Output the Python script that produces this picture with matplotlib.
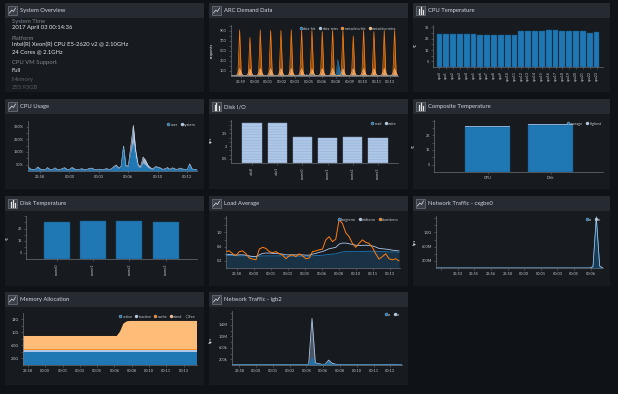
import numpy as np
import matplotlib.pyplot as plt
from matplotlib.patches import Rectangle
from matplotlib.lines import Line2D

# colours of the dashboard
BG = '#0f1216'
PANEL = '#171b20'
HEADER = '#262b32'
AXC = '#6b7179'
TXT = '#c3c7cc'
BLUE, LBLUE, ORANGE, LORANGE = '#1f77b4', '#aec7e8', '#ff7f0e', '#ffbb78'

# ---------------- data ----------------
sys_labels = ["System Time", "Platform", "CPU VM Support", "Memory"]
sys_values = ["2017 April 03 00:14:36",
              "Intel(R) Xeon(R) CPU E5-2620 v2 @ 2.10GHz\n24 Cores @ 2.1GHz",
              "Full", "255.93GB"]

# ARC demand data (requests), one spike per cycle
arc_n = 98
arc_labels = ["23:59", "00:00", "00:01", "00:02", "00:03", "00:05",
              "00:06", "00:08", "00:09", "00:10", "00:11", "00:13"]
arc_spike_idx = [5, 11, 17, 23, 29, 35, 41, 47, 53, 59, 65, 71, 77, 83, 89, 95]
arc_meta_hit_peaks = [913, 760, 913, 900, 900, 913, 900, 900, 880, 900, 900, 793, 900, 880, 900, 900]
arc_meta_miss_peaks = [145, 140, 148, 145, 145, 150, 145, 140, 145, 150, 140, 145, 148, 145, 150, 145]
arc_data_hit_idx = [40, 44, 47, 62, 63, 64]
arc_data_hit_val = [20, 35, 30, 327, 140, 30]

# CPU temperature per core
cpu_names = ["cpu%d" % i for i in range(24)]
cpu_temps = [29.5, 29.6, 29.6, 29.6, 29.6, 29.6, 28.6, 28.6, 28.6, 28.6, 28.6, 28.6,
             32.3, 32.3, 32.3, 32.3, 33.0, 33.0, 32.3, 32.3, 32.3, 32.3, 30.4, 31.4]

# CPU usage (%)
cpu_time_labels = ["23:58", "00:00", "00:03", "00:06", "00:10", "00:13"]
cpu_user = [28, 12, 8, 10, 26, 12, 7, 8, 22, 8, 7, 20, 8, 7, 16, 20, 9, 10, 22, 12,
            8, 10, 14, 8, 9, 16, 18, 10, 8, 12, 8, 9, 15, 10, 12, 28, 40, 18, 30, 185,
            30, 35, 140, 220, 100, 30, 25, 60, 45, 25, 15, 12, 28, 25, 20, 10, 14, 22, 10, 20,
            12, 9, 18, 12, 10, 9, 48, 12, 9, 10]
cpu_system = [6, 4, 3, 3, 6, 4, 3, 3, 5, 3, 3, 5, 3, 3, 4, 6, 3, 3, 6, 4,
              3, 3, 4, 3, 3, 4, 5, 3, 3, 3, 3, 3, 4, 3, 4, 6, 8, 5, 6, 12,
              8, 10, 60, 140, 60, 15, 12, 50, 40, 20, 10, 6, 6, 6, 5, 3, 4, 5, 3, 5,
              4, 3, 5, 4, 3, 3, 8, 4, 3, 3]

# Disk I/O
disk_io_names = ["ada0", "ada1", "nvme0", "nvme1", "nvme2", "nvme3"]
disk_read = [0, 0, 0, 0, 0, 0]
disk_write = [4.75, 4.75, 3.1, 2.95, 3.1, 2.95]

# Composite temperature
comp_names = ["CPU", "Disk"]
comp_avg = [30.6, 31.9]
comp_high = [31.2, 32.4]

# Disk temperature
disk_names = ["nvme0", "nvme1", "nvme2", "nvme3"]
disk_temps = [30.4, 31.5, 31.5, 30.4]

# Load average
time_labels = ["23:58", "00:00", "00:01", "00:03", "00:05", "00:06",
               "00:08", "00:10", "00:11", "00:13"]
load_short = [0.46, 0.48, 0.40, 0.35, 0.46, 0.48, 0.40, 0.28, 0.25, 0.23,
              0.53, 0.58, 0.55, 0.46, 0.43, 0.46, 0.40, 0.36, 0.26, 0.34,
              0.37, 0.32, 0.40, 0.34, 0.26, 0.28, 0.46, 0.48, 0.51, 0.53,
              0.79, 0.88, 0.74, 0.81, 1.36, 1.25, 0.99, 0.88, 0.69, 0.58,
              0.69, 0.79, 0.72, 0.69, 0.58, 0.40, 0.25, 0.32, 0.40, 0.26,
              0.23, 0.26, 0.20]
load_mid = [0.37, 0.38, 0.37, 0.36, 0.37, 0.37, 0.36, 0.34, 0.32, 0.32,
            0.37, 0.41, 0.42, 0.42, 0.41, 0.41, 0.40, 0.39, 0.37, 0.37,
            0.37, 0.37, 0.37, 0.37, 0.36, 0.36, 0.39, 0.41, 0.44, 0.46,
            0.50, 0.54, 0.56, 0.58, 0.67, 0.70, 0.70, 0.68, 0.66, 0.64,
            0.63, 0.63, 0.64, 0.63, 0.62, 0.59, 0.55, 0.54, 0.53, 0.52,
            0.50, 0.49, 0.48]
load_long = [0.35, 0.35, 0.35, 0.34, 0.34, 0.34, 0.34, 0.33, 0.32, 0.32,
             0.33, 0.34, 0.34, 0.34, 0.34, 0.34, 0.34, 0.34, 0.33, 0.33,
             0.33, 0.33, 0.33, 0.33, 0.33, 0.33, 0.34, 0.35, 0.35, 0.36,
             0.37, 0.38, 0.39, 0.40, 0.43, 0.45, 0.46, 0.46, 0.46, 0.46,
             0.46, 0.46, 0.47, 0.47, 0.47, 0.47, 0.46, 0.46, 0.46, 0.45,
             0.45, 0.45, 0.44]

# Network traffic cxgbe0 (Gbit/s)
cx_labels = ["", "23:53", "23:55", "23:56", "23:58", "00:00", "00:01", "00:03", "00:05", "00:06"]
cx_rx = [0.0] * 47 + [0.02, 1.40, 0.02, 0.0]
cx_tx = [0.0] * 47 + [0.04, 1.44, 0.06, 0.0]

# Network traffic igb2 (kbit/s)
igb_rx = [8, 8, 8, 8, 8, 8, 8, 8, 8, 8, 8, 8, 8, 8, 8, 8, 8, 8, 8, 8,
          8, 8, 8, 10, 250, 40, 30, 15, 20, 120, 30, 15, 10, 8, 8, 8, 8, 8, 8, 8,
          8, 8, 8, 8, 8, 8, 8, 10, 15, 8, 8, 8]
igb_tx = [10, 10, 10, 10, 10, 10, 10, 10, 10, 10, 10, 10, 10, 10, 10, 10, 10, 10, 10, 10,
          10, 10, 10, 15, 1620, 70, 50, 20, 30, 170, 60, 30, 15, 10, 10, 10, 10, 10, 10, 10,
          10, 10, 10, 10, 10, 10, 10, 15, 25, 10, 10, 10]

# Memory allocation (GB)
mem_active = [4.1] * 53
mem_inactive = [0.5] * 53
mem_cache = [0.2] * 53
mem_wired = [4.1] * 29 + [5.5, 7.9, 8.6] + [8.7] * 21
mem_free = [0.15] * 53

# ---------------- drawing helpers ----------------
plt.rcParams['font.family'] = ['Lato', 'DejaVu Sans']
plt.rcParams['hatch.linewidth'] = 0.35
W, H = 618, 394
fig = plt.figure(figsize=(W / 100, H / 100), dpi=100)
fig.patch.set_facecolor(BG)


def box(x0, y0, x1, y1, color, z=-2, **kw):
    fig.add_artist(Rectangle((x0 / W, 1 - y1 / H), (x1 - x0) / W, (y1 - y0) / H,
                             transform=fig.transFigure, facecolor=color, zorder=z, **kw))


def fline(xs, ys, color, lw=0.5):
    fig.add_artist(Line2D([x / W for x in xs], [1 - y / H for y in ys],
                          transform=fig.transFigure, color=color, lw=lw, zorder=-1))


def ftext(x, y, s, **kw):
    fig.text(x / W, 1 - y / H, s, **kw)


def panel(x0, y0, x1, y1, title, icon='line'):
    box(x0, y0, x1, y1, PANEL, edgecolor='none')
    box(x0, y0, x1, y0 + 15, HEADER, edgecolor='none')
    box(x0 + 3, y0 + 3, x0 + 12, y0 + 12, '#3a4048', z=-1.5, edgecolor='#858b93', lw=0.4)
    if icon == 'line':
        fline([x0 + 4.5, x0 + 6.8, x0 + 8.5, x0 + 10.5],
              [y0 + 10, y0 + 7, y0 + 8.5, y0 + 5], '#e4e4e4', 0.5)
    else:
        for bx, bh in ((x0 + 5.5, 4.5), (x0 + 7.5, 6.5), (x0 + 9.5, 3.5)):
            fline([bx, bx], [y0 + 10.5, y0 + 10.5 - bh], '#e4e4e4', 0.9)
    ftext(x0 + 15, y0 + 7.8, title, fontsize=4.2, color='#d4d7db', va='center', ha='left')


def mkax(l, t, r, b):
    ax = fig.add_axes([l / W, 1 - b / H, (r - l) / W, (b - t) / H])
    ax.set_facecolor('none')
    for s in ('top', 'right'):
        ax.spines[s].set_visible(False)
    for s in ('left', 'bottom'):
        ax.spines[s].set_color(AXC)
        ax.spines[s].set_linewidth(0.5)
    ax.tick_params(colors=AXC, labelcolor=TXT, labelsize=2.8, length=1.5, width=0.4, pad=1.5)
    return ax


def yticks(ax, ticks, labels):
    ax.set_yticks(ticks)
    ax.set_yticklabels(labels)


def legend(ax, names, colors):
    hs = [Line2D([], [], ls='none', marker='o', ms=2.2, mfc=c, mec='#dddddd', mew=0.2) for c in colors]
    ax.legend(hs, names, loc='upper right', bbox_to_anchor=(1.0, 1.0), ncol=len(names),
              frameon=False, fontsize=2.8, labelcolor=TXT, handlelength=0.6,
              handletextpad=0.25, columnspacing=0.7, borderaxespad=0.4, borderpad=0)


def ylab(x, y, s):
    ftext(x, y, s, fontsize=2.8, color=TXT, rotation=90, ha='center', va='center', fontweight='bold')


cols = [(5, 204), (209, 408), (413, 610)]
rows = [(3, 92), (99, 189), (196, 286), (292, 385)]

# ---------------- System Overview ----------------
panel(cols[0][0], rows[0][0], cols[0][1], rows[0][1], "System Overview")
lab_y = [21, 38.7, 62.7, 80]
val_y = [28, 44.7, 70, 87.3]
for i, (lab, val) in enumerate(zip(sys_labels, sys_values)):
    dim = i == 3
    ftext(12, lab_y[i], lab, fontsize=4.2, color='#5a6067' if dim else '#80868d', va='center')
    for j, line in enumerate(val.split('\n')):
        ftext(12, val_y[i] + j * 7.6, line, fontsize=4.2,
              color='#555b62' if dim else '#e4e6e8', va='center')

# ---------------- ARC Demand Data ----------------
panel(cols[1][0], rows[0][0], cols[1][1], rows[0][1], "ARC Demand Data")
ax = mkax(231, 25, 398, 76)
x = np.arange(arc_n)
meta_hit = np.full(arc_n, 8.0)
meta_miss = np.full(arc_n, 4.0)
data_hit = np.full(arc_n, 3.0)
data_miss = np.full(arc_n, 2.0)
for k, i in enumerate(arc_spike_idx):
    meta_hit[i] = arc_meta_hit_peaks[k]
    meta_miss[i] = arc_meta_miss_peaks[k]
    meta_miss[i - 1] = arc_meta_miss_peaks[k] * 0.4
    if i + 1 < arc_n:
        meta_miss[i + 1] = arc_meta_miss_peaks[k] * 0.4
for i, v in zip(arc_data_hit_idx, arc_data_hit_val):
    data_hit[i] = v
ax.fill_between(x, meta_hit, color=ORANGE, alpha=0.55, lw=0)
ax.plot(x, meta_hit, color=ORANGE, lw=0.5)
ax.fill_between(x, meta_miss, color=LORANGE, alpha=0.8, lw=0)
ax.plot(x, meta_miss, color=LORANGE, lw=0.4)
ax.fill_between(x, data_hit, color=BLUE, alpha=0.8, lw=0)
ax.plot(x, data_hit, color=BLUE, lw=0.4)
ax.plot(x, data_miss, color=LBLUE, lw=0.3)
ax.set_xlim(0, arc_n - 1)
ax.set_ylim(0, 1010)
yv = np.arange(100, 1001, 100)
yticks(ax, yv, [str(v) if v % 200 == 100 else '' for v in yv])
ax.set_xticks(np.linspace(5.8, 92.4, len(arc_labels)))
ax.set_xticklabels(arc_labels)
legend(ax, ["data-hit", "data-miss", "metadata-hit", "metadata-miss"], [BLUE, LBLUE, ORANGE, LORANGE])
ylab(212, 50, "requests")

# ---------------- CPU Temperature ----------------
panel(cols[2][0], rows[0][0], cols[2][1], rows[0][1], "CPU Temperature", 'bar')
ax = mkax(433, 25, 603, 67)
ax.bar(range(len(cpu_temps)), cpu_temps, width=0.85, color=BLUE, edgecolor='#15527f', lw=0.3)
ax.set_xlim(-0.94, 23.95)
ax.set_ylim(0, 37.2)
yv = np.arange(5, 36, 5)
yticks(ax, yv, [str(v) if v % 10 == 5 else '' for v in yv])
ax.set_xticks(range(len(cpu_names)))
ax.set_xticklabels(cpu_names, rotation=90, fontsize=2.6)
ylab(416, 45, "°C")

# ---------------- CPU Usage ----------------
panel(cols[0][0], rows[1][0], cols[0][1], rows[1][1], "CPU Usage")
ax = mkax(28, 121, 197, 171)
x = np.arange(len(cpu_user))
top = np.array(cpu_user) + np.array(cpu_system)
ax.fill_between(x, top, cpu_user, color=LBLUE, alpha=0.9, lw=0)
ax.plot(x, top, color='#dbe7f5', lw=0.4)
ax.fill_between(x, cpu_user, color=BLUE, lw=0)
ax.plot(x, cpu_user, color='#3a93d6', lw=0.4)
ax.set_xlim(0, len(x) - 1)
ax.set_ylim(0, 394)
yv = np.arange(50, 351, 50)
yticks(ax, yv, ['%d%%' % v if v % 100 == 50 else '' for v in yv])
ax.set_xticks(np.linspace(4.9, 64.9, len(cpu_time_labels)))
ax.set_xticklabels(cpu_time_labels)
legend(ax, ["user", "system"], [BLUE, LBLUE])

# ---------------- Disk I/O ----------------
panel(cols[1][0], rows[1][0], cols[1][1], rows[1][1], "Disk I/O", 'bar')
ax = mkax(231, 120, 398, 163)
ax.bar(range(6), disk_read, width=0.76, color=BLUE, lw=0)
ax.bar(range(6), disk_write, bottom=disk_read, width=0.76, color=LBLUE,
       edgecolor='#93aed0', lw=0.3, hatch='------')
ax.set_xlim(-0.83, 5.79)
ax.set_ylim(0, 5.1)
yv = np.arange(0.5, 5.01, 0.5)
yticks(ax, yv, ['0.5' if abs(v - 0.5) < 1e-6 else '2' if abs(v - 2) < 1e-6 else
                '3.5' if abs(v - 3.5) < 1e-6 else '' for v in yv])
ax.set_xticks(range(6))
ax.set_xticklabels(disk_io_names, rotation=90)
legend(ax, ["read", "write"], [BLUE, LBLUE])
ylab(211, 140, "ops")

# ---------------- Composite Temperature ----------------
panel(cols[2][0], rows[1][0], cols[2][1], rows[1][1], "Composite Temperature", 'bar')
ax = mkax(434, 120, 603, 172)
ax.bar(range(2), comp_high, width=0.71, color=LBLUE, lw=0)
ax.bar(range(2), comp_avg, width=0.71, color=BLUE, edgecolor='#15527f', lw=0.3)
ax.set_xlim(-0.85, 1.83)
ax.set_ylim(0, 35.4)
yv = np.arange(5, 36, 5)
yticks(ax, yv, [str(v) if v % 10 == 5 and v < 35 else '' for v in yv])
ax.set_xticks(range(2))
ax.set_xticklabels(comp_names)
legend(ax, ["average", "highest"], [BLUE, LBLUE])
ylab(414, 146, "°C")

# ---------------- Disk Temperature ----------------
panel(cols[0][0], rows[2][0], cols[0][1], rows[2][1], "Disk Temperature", 'bar')
ax = mkax(26, 216, 197, 259)
ax.bar(range(4), disk_temps, width=0.72, color=BLUE, edgecolor='#15527f', lw=0.3)
ax.set_xlim(-0.86, 3.87)
ax.set_ylim(0, 35.3)
yv = np.arange(5, 36, 5)
yticks(ax, yv, [str(v) if v % 10 == 5 and v < 35 else '' for v in yv])
ax.set_xticks(range(4))
ax.set_xticklabels(disk_names, rotation=90)
ylab(8, 238, "°C")

# ---------------- Load Average ----------------
panel(cols[1][0], rows[2][0], cols[1][1], rows[2][1], "Load Average")
ax = mkax(226, 216, 400, 268)
x = np.arange(len(load_long))
ax.fill_between(x, load_long, color=BLUE, alpha=0.25, lw=0)
ax.plot(x, load_long, color=BLUE, lw=0.6)
ax.plot(x, load_mid, color=LBLUE, lw=0.6)
ax.plot(x, load_short, color=ORANGE, lw=0.7)
ax.set_xlim(0, 52.3)
ax.set_ylim(0, 1.46)
yv = np.arange(0.2, 1.41, 0.2)
yticks(ax, yv, ['%.1f' % v if round(v * 10) % 4 == 2 and v < 1.3 else '' for v in yv])
ax.set_xticks(np.linspace(3.3, 49.3, len(time_labels)))
ax.set_xticklabels(time_labels)
legend(ax, ["longterm", "midterm", "shortterm"], [BLUE, LBLUE, ORANGE])

# ---------------- Network Traffic - cxgbe0 ----------------
panel(cols[2][0], rows[2][0], cols[2][1], rows[2][1], "Network Traffic - cxgbe0")
ax = mkax(436, 216, 603, 268)
x = np.arange(len(cx_rx))
ax.fill_between(x, cx_rx, color=BLUE, alpha=0.35, lw=0)
ax.plot(x, cx_rx, color=BLUE, lw=0.6)
ax.plot(x, cx_tx, color=LBLUE, lw=0.5)
ax.set_xlim(0, 50)
ax.set_ylim(0, 1.46)
yv = np.arange(0.2, 1.41, 0.2)
yticks(ax, yv, ['200M' if i == 0 else '600M' if i == 2 else '1.0G' if i == 4 else ''
                for i in range(len(yv))])
ax.set_xticks(np.linspace(1.5, 46.3, len(cx_labels)))
ax.set_xticklabels(cx_labels)
legend(ax, ["rx", "tx"], [BLUE, LBLUE])
ylab(415, 242, "bps")

# ---------------- Memory Allocation ----------------
panel(cols[0][0], rows[3][0], cols[0][1], rows[3][1], "Memory Allocation")
ax = mkax(23, 313, 197, 365)
x = np.arange(len(mem_active))
ax.stackplot(x, mem_active, mem_inactive, mem_cache, mem_wired, mem_free,
             colors=[BLUE, LBLUE, ORANGE, LORANGE, '#111111'], lw=0)
ax.set_xlim(0, 52)
ax.set_ylim(0, 15.9)
yticks(ax, np.arange(2, 15, 2), ['2.0G', '', '6.0G', '', '10G', '', '14G'])
ax.set_xticks(np.linspace(1.5, 48, len(time_labels)))
ax.set_xticklabels(time_labels)
legend(ax, ["active", "inactive", "cache", "wired", "free"], [BLUE, LBLUE, ORANGE, LORANGE, '#111111'])

# ---------------- Network Traffic - igb2 ----------------
panel(cols[1][0], rows[3][0], cols[1][1], rows[3][1], "Network Traffic - igb2")
ax = mkax(232, 311, 402, 365)
x = np.arange(len(igb_rx))
ax.fill_between(x, igb_tx, color=LBLUE, alpha=0.35, lw=0)
ax.plot(x, igb_tx, color=LBLUE, lw=0.6)
ax.fill_between(x, igb_rx, color=BLUE, alpha=0.8, lw=0)
ax.plot(x, igb_rx, color=BLUE, lw=0.5)
ax.set_xlim(0, 51)
ax.set_ylim(0, 1880)
yv = np.arange(200, 1801, 200)
yticks(ax, yv, ['200k' if v == 200 else '600k' if v == 600 else '1.0M' if v == 1000 else
                '1.4M' if v == 1400 else '' for v in yv])
ax.set_xticks(np.linspace(2.2, 47.5, len(time_labels)))
ax.set_xticklabels(time_labels)
legend(ax, ["rx", "tx"], [BLUE, LBLUE])
ylab(211, 340, "bps")

fig.savefig('out.png', dpi=100, facecolor=BG)
